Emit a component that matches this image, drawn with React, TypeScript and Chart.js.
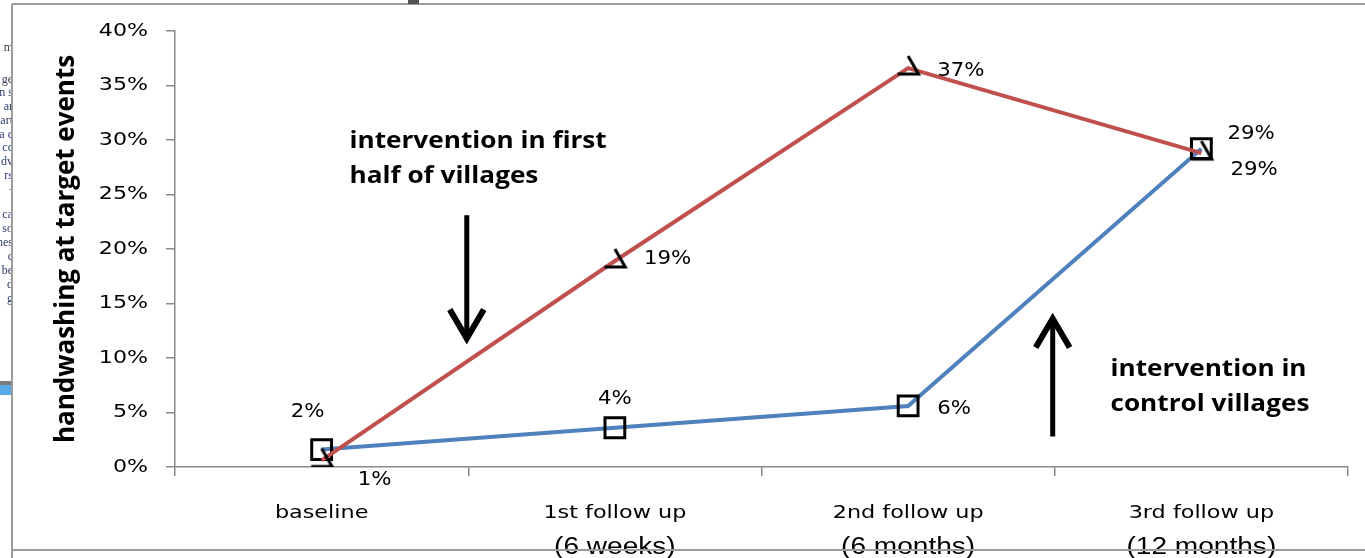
import { useEffect, useRef } from 'react';
import { Chart, registerables } from 'chart.js';

Chart.register(...registerables);

// Survey rounds along the x axis
const categories = ['baseline', '1st follow up', '2nd follow up', '3rd follow up'];
const periods = ['', '(6 weeks)', '(6 months)', '(12 months)'];

// Share of observed target events with handwashing (%)
const firstHalfVillages = [0.6, 18.9, 36.6, 28.8];
const controlVillages = [1.6, 3.6, 5.6, 29.2];

// y axis range
const yMin = 0;
const yMax = 40;
const yStep = 5;

// where each value label sits relative to its point: [dx, dy, align]
const firstHalfLabelPlacement: [number, number, CanvasTextAlign][] = [
  [53, 20, 'center'],
  [29, -2, 'left'],
  [29, 3, 'left'],
  [29, 17, 'left'],
];
const controlLabelPlacement: [number, number, CanvasTextAlign][] = [
  [-14, -37, 'center'],
  [0, -29, 'center'],
  [29, 3, 'left'],
  [26, -15, 'left'],
];

// callouts, positioned in axis units (category index, percent)
const callouts = [
  { lines: ['intervention in first', 'half of villages'], x: 0.095, y: [29.9, 26.7], arrowX: 0.495, arrowFrom: 23.1, arrowTo: 11.6 },
  { lines: ['intervention in', 'control villages'], x: 2.69, y: [9.0, 5.8], arrowX: 2.493, arrowFrom: 2.8, arrowTo: 13.8 },
];

// bits of the neighbouring page text showing at the left edge
const marginFragments: [string, number, string][] = [
  ['m', 48, '#3a3a3a'], ['ge', 80, '#3a3a5a'], ['n s', 93, '#2a3a7a'], ['ar', 107, '#2a3a6a'],
  ['art', 121, '#2a3a6a'], ['a c', 135, '#2a3a7a'], ['cc', 148, '#2a3a6a'], ['dv', 162, '#2a3a6a'],
  ['rs', 176, '#2a3a8a'], ['-', 190, '#4a7acb'], ['ca', 215, '#2a3a6a'], ['so', 229, '#2a3a6a'],
  ['nes', 243, '#2a3a6a'], ['c', 257, '#2a3a6a'], ['be', 271, '#2a3a6a'], ['d', 285, '#2a3a6a'], ['g', 299, '#2a3a6a'],
];

const RED = '#C0504D';
const BLUE = '#4F81BD';
const AXIS = '#8a8a8a';
const FRAME = '#9c9c9c';
const TICK_LEN = 9;
const TICK_PAD = 18;

function makeOpenTriangle(): HTMLCanvasElement {
  const c = document.createElement('canvas');
  c.width = 32;
  c.height = 32;
  const g = c.getContext('2d')!;
  const r = 12;
  const cx = 16;
  const cy = 16;
  g.strokeStyle = '#000';
  g.lineWidth = 3;
  g.lineJoin = 'miter';
  g.beginPath();
  g.moveTo(cx, cy - r);
  g.lineTo(cx + r * Math.sin((2 * Math.PI) / 3), cy + r / 2);
  g.lineTo(cx - r * Math.sin((2 * Math.PI) / 3), cy + r / 2);
  g.stroke();
  return c;
}

// text drawn with a horizontal stretch, to get the wide lettering of the figure
function drawStretched(ctx: CanvasRenderingContext2D, text: string, x: number, y: number, sx: number, align: CanvasTextAlign) {
  ctx.save();
  ctx.translate(x, y);
  ctx.scale(sx, 1);
  ctx.textAlign = align;
  ctx.fillText(text, 0, 0);
  ctx.restore();
}

const valueLabels = {
  id: 'valueLabels',
  afterDatasetsDraw(chart: any) {
    const ctx: CanvasRenderingContext2D = chart.ctx;
    const placements = [firstHalfLabelPlacement, controlLabelPlacement];
    ctx.save();
    ctx.font = '19px "DejaVu Sans"';
    ctx.fillStyle = '#000';
    ctx.textBaseline = 'middle';
    chart.data.datasets.forEach((ds: any, i: number) => {
      const meta = chart.getDatasetMeta(i);
      meta.data.forEach((pt: any, j: number) => {
        const [dx, dy, align] = placements[i][j];
        drawStretched(ctx, `${Math.round(ds.data[j])}%`, pt.x + dx, pt.y + dy, 1.12, align);
      });
    });
    ctx.restore();
  },
};

const decorations = {
  id: 'decorations',
  afterDraw(chart: any) {
    const ctx: CanvasRenderingContext2D = chart.ctx;
    const xs = chart.scales.x;
    const ys = chart.scales.y;
    const bottom = chart.chartArea.bottom;

    // y tick labels
    ctx.save();
    ctx.fillStyle = '#000';
    ctx.font = '18px "DejaVu Sans"';
    ctx.textBaseline = 'middle';
    ys.ticks.forEach((t: any) => {
      drawStretched(ctx, `${t.value}%`, ys.right - TICK_LEN - TICK_PAD, ys.getPixelForValue(t.value), 1.23, 'right');
    });
    ctx.restore();

    // category labels, two lines each
    ctx.save();
    ctx.fillStyle = '#000';
    ctx.textBaseline = 'alphabetic';
    categories.forEach((name, i) => {
      const px = xs.getPixelForValue(i);
      ctx.font = '18px "DejaVu Sans"';
      drawStretched(ctx, name, px, bottom + 51, 1.24, 'center');
      if (periods[i]) {
        ctx.font = '23px "Liberation Sans"';
        drawStretched(ctx, periods[i], px, bottom + 87, 1.22, 'center');
      }
    });
    ctx.restore();

    // callout text and arrows
    ctx.save();
    ctx.fillStyle = '#000';
    ctx.strokeStyle = '#000';
    ctx.font = 'bold 24px "Open Sans"';
    ctx.textBaseline = 'middle';
    callouts.forEach((c) => {
      const tx = xs.getPixelForValue(c.x);
      c.lines.forEach((line, k) => drawStretched(ctx, line, tx, ys.getPixelForValue(c.y[k]), 1.09, 'left'));
      const ax = xs.getPixelForValue(c.arrowX);
      const y0 = ys.getPixelForValue(c.arrowFrom);
      const y1 = ys.getPixelForValue(c.arrowTo);
      const dir = y1 > y0 ? 1 : -1;
      ctx.lineCap = 'butt';
      ctx.lineJoin = 'miter';
      ctx.lineWidth = 5;
      ctx.beginPath();
      ctx.moveTo(ax, y0);
      ctx.lineTo(ax, y1 - dir * 2);
      ctx.stroke();
      ctx.lineWidth = 6;
      ctx.beginPath();
      ctx.moveTo(ax - 17, y1 - dir * 31);
      ctx.lineTo(ax, y1 - dir * 2);
      ctx.lineTo(ax + 17, y1 - dir * 31);
      ctx.stroke();
    });
    ctx.restore();

    // page frame around the figure
    ctx.save();
    ctx.strokeStyle = FRAME;
    ctx.lineWidth = 2;
    ctx.beginPath();
    ctx.moveTo(12, 4);
    ctx.lineTo(chart.width, 4);
    ctx.moveTo(12, 4);
    ctx.lineTo(12, chart.height);
    ctx.moveTo(12, 550);
    ctx.lineTo(chart.width, 550);
    ctx.stroke();
    ctx.fillStyle = '#555';
    ctx.fillRect(408, 0, 11, 4);
    ctx.fillStyle = '#7a7a7a';
    ctx.fillRect(0, 381, 11, 4);
    ctx.fillStyle = '#5aaae8';
    ctx.fillRect(0, 385, 11, 10);
    ctx.beginPath();
    ctx.rect(0, 0, 11, chart.height);
    ctx.clip();
    ctx.font = '12px "Liberation Serif"';
    ctx.textAlign = 'right';
    ctx.textBaseline = 'middle';
    marginFragments.forEach(([t, y, col]) => {
      ctx.fillStyle = col;
      ctx.fillText(t, 13, y);
    });
    ctx.restore();
  },
};

export default function App() {
  const canvasRef = useRef<HTMLCanvasElement | null>(null);

  useEffect(() => {
    document.body.style.margin = '0';
    const canvas = canvasRef.current;
    if (!canvas) return;
    const triangle = makeOpenTriangle();

    const chart = new Chart(canvas, {
      type: 'line',
      data: {
        labels: categories,
        datasets: [
          {
            label: 'intervention in first half of villages',
            data: firstHalfVillages,
            borderColor: RED,
            borderWidth: 4,
            tension: 0,
            pointStyle: triangle as any,
            pointRadius: 12,
            pointBorderColor: '#000',
            pointBackgroundColor: 'transparent',
          },
          {
            label: 'control villages',
            data: controlVillages,
            borderColor: BLUE,
            borderWidth: 4,
            tension: 0,
            pointStyle: 'rect',
            pointRadius: 14,
            pointBorderWidth: 3,
            pointBorderColor: '#000',
            pointBackgroundColor: 'transparent',
          },
        ],
      },
      options: {
        animation: false,
        responsive: false,
        devicePixelRatio: 1,
        events: [],
        layout: { padding: { left: 0, right: 8, top: 31, bottom: 0 } },
        plugins: {
          legend: { display: false },
          tooltip: { enabled: false },
          title: { display: false },
        },
        scales: {
          x: {
            type: 'category',
            offset: true,
            grid: {
              display: true,
              offset: true,
              drawOnChartArea: false,
              drawTicks: true,
              tickLength: TICK_LEN,
              color: AXIS,
              lineWidth: 1.5,
            },
            border: { display: true, color: AXIS, width: 1.5 },
            ticks: { display: false },
            afterFit: (s: any) => {
              s.height = 91;
            },
          },
          y: {
            min: yMin,
            max: yMax,
            grid: {
              drawOnChartArea: false,
              drawTicks: true,
              tickLength: TICK_LEN,
              color: AXIS,
              lineWidth: 1.5,
            },
            border: { display: true, color: AXIS, width: 1.5 },
            ticks: {
              display: false,
              stepSize: yStep,
            },
            title: {
              display: true,
              text: 'handwashing at target events',
              color: '#000',
              font: { family: '"Open Sans"', size: 26, weight: 'bold' },
              padding: { top: 51, bottom: 0 },
            },
            afterFit: (s: any) => {
              s.width = 175;
            },
          },
        },
      },
      plugins: [valueLabels, decorations],
    });

    return () => chart.destroy();
  }, []);

  return (
    <div style={{ position: 'fixed', left: 0, top: 0, width: 1365, height: 558, background: '#fff' }}>
      <canvas ref={canvasRef} width={1365} height={558} style={{ display: 'block' }} />
    </div>
  );
}
